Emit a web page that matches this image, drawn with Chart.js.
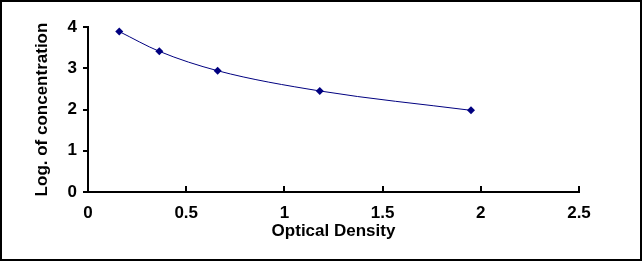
<!DOCTYPE html>
<html>
<head>
<meta charset="utf-8">
<script src="https://cdn.jsdelivr.net/npm/chart.js@4"></script>
<style>
  html, body { margin: 0; padding: 0; background: #fff; }
  #wrap { width: 642px; height: 261px; }
</style>
</head>
<body>
<div id="wrap"><canvas id="chartCanvas" width="642" height="261"></canvas></div>
<script>
// Dati del grafico
const opticalDensity = [0.159, 0.363, 0.66, 1.18, 1.95];
const logConcentration = [3.89, 3.41, 2.94, 2.45, 1.98];
const xTicks = [0, 0.5, 1, 1.5, 2, 2.5];
const yTicks = [0, 1, 2, 3, 4];

const navy = '#000080';
const tickFont = { family: 'Liberation Sans, Arial, sans-serif', size: 17, weight: 'bold' };

// cornice esterna + tacche interne dell'asse x
const framePlugin = {
    id: 'frame',
    afterDraw(chart) {
        const ctx = chart.ctx;
        const xs = chart.scales.x;
        const ys = chart.scales.y;
        ctx.save();
        ctx.strokeStyle = '#000';
        ctx.lineWidth = 2;
        xTicks.forEach(v => {
            if (v === 0) return;
            const px = Math.round(xs.getPixelForValue(v));
            ctx.beginPath();
            ctx.moveTo(px, ys.bottom);
            ctx.lineTo(px, ys.bottom - 6);
            ctx.stroke();
        });
        ctx.strokeRect(1, 1, chart.width - 2, chart.height - 2);
        ctx.restore();
    }
};

const chart = new Chart(document.getElementById('chartCanvas').getContext('2d'), {
    type: 'scatter',
    data: {
        datasets: [{
            data: opticalDensity.map((x, i) => ({ x: x, y: logConcentration[i] })),
            showLine: true,
            borderColor: navy,
            backgroundColor: navy,
            borderWidth: 1,
            pointStyle: 'rectRot',
            pointRadius: 4,
            pointBorderWidth: 0,
            cubicInterpolationMode: 'monotone'
        }]
    },
    options: {
        responsive: false,
        animation: false,
        layout: { padding: { top: 27, right: 63, left: 0, bottom: 0 } },
        plugins: { legend: { display: false }, tooltip: { enabled: false } },
        scales: {
            x: {
                type: 'linear',
                min: 0,
                max: 2.5,
                afterBuildTicks: s => { s.ticks = xTicks.map(v => ({ value: v })); },
                afterFit: s => { s.height = 69; },
                grid: { display: true, drawOnChartArea: false, drawTicks: false, tickLength: 0 },
                border: { color: '#000', width: 2 },
                ticks: { color: '#000', font: tickFont, padding: 11, maxRotation: 0, callback: v => String(v) },
                title: { display: true, text: 'Optical Density', color: '#000', font: tickFont, padding: { top: 0, bottom: 19 } }
            },
            y: {
                min: 0,
                max: 4,
                afterBuildTicks: s => { s.ticks = yTicks.map(v => ({ value: v })); },
                afterFit: s => { s.width = 88; },
                grid: { display: true, drawOnChartArea: false, drawTicks: true, tickLength: 5, color: '#000', lineWidth: 2 },
                border: { color: '#000', width: 2 },
                ticks: { color: '#000', font: tickFont, padding: 6, callback: v => String(v) },
                title: { display: true, text: 'Log. of concentration', color: '#000', font: tickFont, padding: { top: 32, bottom: 0 } }
            }
        }
    },
    plugins: [framePlugin]
});
</script>
</body>
</html>
